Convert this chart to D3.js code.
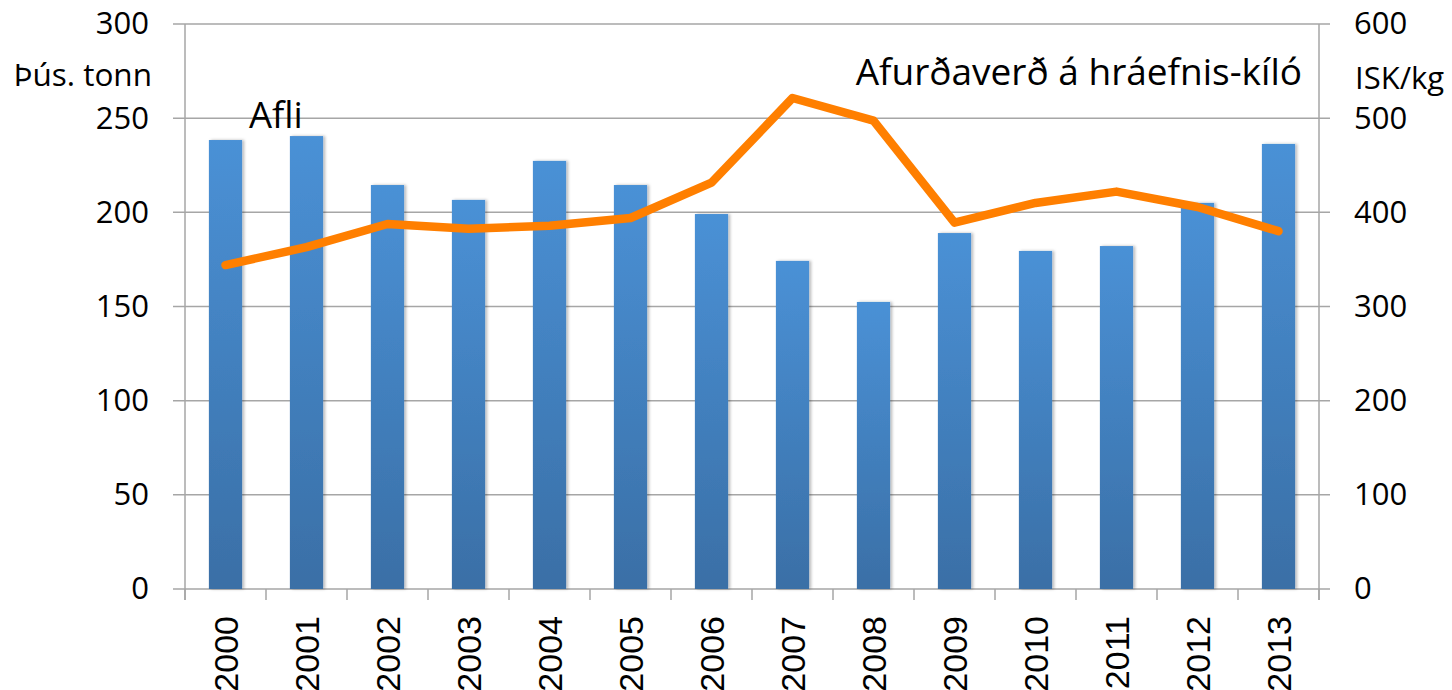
<!DOCTYPE html>
<html>
<head>
<meta charset="utf-8">
<script src="https://cdn.jsdelivr.net/npm/d3@7"></script>
<style>
  body { margin: 0; background: #fff; }
  svg text { font-family: "Open Sans", sans-serif; fill: #000; }
  .domain { display: none; }
</style>
</head>
<body>
<div id="chart"></div>
<script>
const years = ["2000", "2001", "2002", "2003", "2004", "2005", "2006", "2007", "2008", "2009", "2010", "2011", "2012", "2013"];
// Afli, þús. tonn
const catch_ = [238.4, 240.5, 214.5, 206.6, 227.3, 214.5, 199.1, 174.2, 152.4, 189.0, 179.5, 182.1, 205.0, 236.3];
// Afurðaverð á hráefnis-kíló, ISK/kg
const price = [344, 363, 387.6, 382.6, 385.8, 394, 431.5, 521.4, 497.3, 389, 410, 422, 405.7, 380];
const leftTicks = [0, 50, 100, 150, 200, 250, 300];
const rightTicks = [0, 100, 200, 300, 400, 500, 600];

const W = 1452, H = 690;
const margin = { top: 24, right: 133, bottom: 101, left: 185 };
const width = W - margin.left - margin.right;
const height = H - margin.top - margin.bottom;
const gridColor = "#a6a6a6";

const svg = d3.select("#chart").append("svg")
    .attr("width", W)
    .attr("height", H);

const defs = svg.append("defs");
const grad = defs.append("linearGradient")
    .attr("id", "barGrad")
    .attr("x1", 0).attr("y1", 0).attr("x2", 0).attr("y2", 1);
grad.append("stop").attr("offset", "0%").attr("stop-color", "#4a91d6");
grad.append("stop").attr("offset", "100%").attr("stop-color", "#3a6fa6");
const shadow = defs.append("filter").attr("id", "barShadow")
    .attr("x", "-20%").attr("y", "-5%").attr("width", "150%").attr("height", "110%");
shadow.append("feDropShadow")
    .attr("dx", 2).attr("dy", 0).attr("stdDeviation", 1.8)
    .attr("flood-color", "#000").attr("flood-opacity", 0.28);

const g = svg.append("g").attr("transform", `translate(${margin.left},${margin.top})`);

const x = d3.scaleBand().domain(years).range([0, width]).paddingInner(0.59).paddingOuter(0.295);
const y = d3.scaleLinear().domain([0, 300]).range([height, 0]);
const y2 = d3.scaleLinear().domain([0, 600]).range([height, 0]);

// gridlines
g.append("g").selectAll("line")
    .data(leftTicks)
    .join("line")
    .attr("x1", -12).attr("x2", width + 11)
    .attr("y1", d => y(d)).attr("y2", d => y(d))
    .attr("stroke", gridColor).attr("stroke-width", 1.5);

// y axis lines
g.append("line").attr("x1", 0).attr("x2", 0).attr("y1", 0).attr("y2", height + 11)
    .attr("stroke", gridColor).attr("stroke-width", 1.5);
g.append("line").attr("x1", width).attr("x2", width).attr("y1", 0).attr("y2", height + 11)
    .attr("stroke", gridColor).attr("stroke-width", 1.5);

// x ticks at band boundaries
const step = x.step();
g.append("g").selectAll("line")
    .data(d3.range(years.length + 1))
    .join("line")
    .attr("x1", i => i * step).attr("x2", i => i * step)
    .attr("y1", height).attr("y2", height + 11)
    .attr("stroke", gridColor).attr("stroke-width", 1.5);

// left axis labels
const leftAxis = g.append("g")
    .call(d3.axisLeft(y).tickValues(leftTicks).tickSize(0).tickPadding(36));
leftAxis.selectAll("text")
    .style("font-family", "'Open Sans', sans-serif")
    .style("font-size", "31px");

// right axis labels
const rightAxis = g.append("g")
    .attr("transform", `translate(${width},0)`)
    .call(d3.axisRight(y2).tickValues(rightTicks).tickSize(0).tickPadding(35));
rightAxis.selectAll("text")
    .style("font-family", "'Open Sans', sans-serif")
    .style("font-size", "31px");

// x axis labels
const xAxis = g.append("g")
    .attr("transform", `translate(0,${height})`)
    .call(d3.axisBottom(x).tickSize(0).tickPadding(0));
xAxis.selectAll("text")
    .style("font-family", "'Liberation Sans', Arial, sans-serif")
    .style("font-size", "34px")
    .attr("transform", "rotate(-90)")
    .attr("x", -27)
    .attr("y", 0)
    .attr("dy", "0.36em")
    .style("text-anchor", "end");

// bars
g.append("g").selectAll("rect")
    .data(catch_)
    .join("rect")
    .attr("x", (d, i) => x(years[i]))
    .attr("y", d => y(d))
    .attr("width", x.bandwidth())
    .attr("height", d => height - y(d))
    .attr("fill", "url(#barGrad)")
    .attr("filter", "url(#barShadow)");

// price line
const line = d3.line()
    .x((d, i) => x(years[i]) + x.bandwidth() / 2)
    .y(d => y2(d));
g.append("path")
    .datum(price)
    .attr("d", line)
    .attr("fill", "none")
    .attr("stroke", "#ff7f00")
    .attr("stroke-width", 8.5)
    .attr("stroke-linejoin", "round")
    .attr("stroke-linecap", "round");

// labels
svg.append("text").attr("x", 152).attr("y", 86)
    .attr("text-anchor", "end")
    .style("font-size", "31.5px")
    .text("Þús. tonn");
svg.append("text").attr("x", 1355).attr("y", 89)
    .style("font-size", "31px")
    .text("ISK/kg");
svg.append("text").attr("x", 249).attr("y", 128)
    .style("font-size", "36.5px")
    .text("Afli");
svg.append("text").attr("x", 1302).attr("y", 85)
    .attr("text-anchor", "end")
    .style("font-size", "37px")
    .text("Afurðaverð á hráefnis-kíló");
</script>
</body>
</html>
